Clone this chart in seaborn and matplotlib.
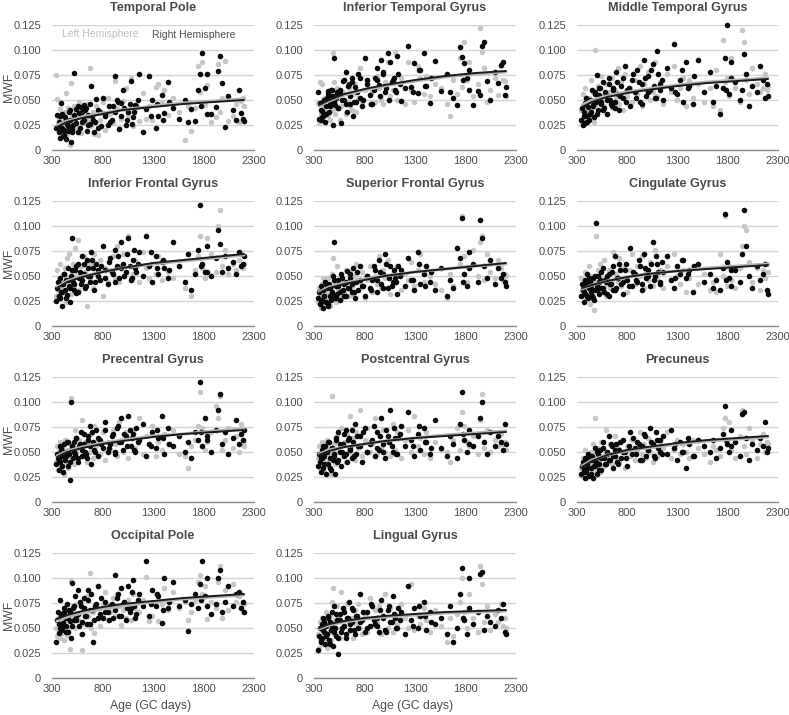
import matplotlib
matplotlib.use("Agg")
import matplotlib.pyplot as plt
import seaborn as sns

sns.set_theme(style="white")
plt.rcParams['font.family'] = ['Liberation Sans', 'DejaVu Sans']

W, H = 789, 715
TEXT = '#4d4d4d'
GREY = '#c6c6c6'
BLACK = '#0a0a0a'

titles = ["Temporal Pole", "Inferior Temporal Gyrus", "Middle Temporal Gyrus",
          "Inferior Frontal Gyrus", "Superior Frontal Gyrus", "Cingulate Gyrus",
          "Precentral Gyrus", "Postcentral Gyrus", "Precuneus",
          "Occipital Pole", "Lingual Gyrus"]
x_ticks = [300, 800, 1300, 1800, 2300]
y_ticks = [0, 25, 50, 75, 100, 125]
y_tick_labels = ["0", "0.025", "0.050", "0.075", "0.100", "0.125"]

# Age in GC days, shared by all panels
ages = [340,350,360,368,375,382,390,398,405,415,
        425,435,445,455,465,475,485,495,505,515,
        525,540,555,570,585,600,615,630,645,660,
        675,690,705,720,740,760,780,800,825,850,
        875,900,925,945,965,985,1005,1030,1055,1080,
        1100,1125,1160,1200,1235,1265,1295,1325,1350,1385,
        1410,1450,1500,1560,1620,1650,1680,1720,1750,1770,
        1790,1815,1835,1870,1920,1945,1960,1985,2010,2045,
        2090,2120,2150,2175,2190,2200]
# Further right-hemisphere scans
extra_ages = [370,385,400,420,440,460,480,500,520,540,
              560,580,600,620,640,660,680,700,730,760,
              790,820,860,890,920,950,980,1010,1040,1070,
              1090,1110,1130,1150,1280,1340,1400,1460,1780,1830]
trend_age = [350, 450, 600, 800, 1000, 1300, 1600, 1900, 2200]

# MWF x 1000, right hemisphere
right = [
 [22,35,24,18,12,34,47,22,14,20, 33,11,26,19,38,30,8,21,25,77, 32,41,18,37,43,28,45,40,19,35,
  26,64,30,18,51,22,38,52,34,25, 28,44,74,50,21,47,60,25,38,69, 33,45,76,18,41,74,50,22,34,55,
  37,68,42,31,50,28,41,29,60,76, 97,62,76,36,43,79,94,67,23,54, 40,30,60,37,31,29],
 [58,31,47,30,39,33,48,36,28,44, 52,59,38,46,60,54,25,92,45,55, 58,42,57,27,69,50,78,38,66,46,
  72,34,63,48,76,52,44,92,70,55, 46,72,82,65,90,78,58,97,88,70, 60,94,49,62,104,63,87,57,80,97,
  64,47,89,59,76,58,52,45,103,93, 87,72,80,45,59,55,104,108,69,50, 78,67,85,88,55,63],
 [30,42,25,38,47,27,52,34,43,30, 36,50,60,45,33,58,48,75,40,55, 62,46,68,42,55,36,72,50,44,62,
  48,78,56,40,64,52,84,60,44,70, 58,80,48,66,90,54,74,60,86,52, 99,66,50,82,62,106,56,70,48,88,
  64,46,90,58,78,48,64,36,62,92, 125,56,88,68,50,60,96,76,44,64, 58,84,70,52,66,54],
 [25,38,44,30,28,48,34,20,42,52, 36,46,31,58,40,24,50,88,44,36, 56,33,62,48,42,70,52,38,66,50,
  44,74,58,36,62,50,46,80,56,42, 68,52,76,60,48,84,62,54,88,46, 66,58,74,50,90,60,44,70,52,64,
  58,48,84,60,44,72,36,52,76,121, 62,54,80,50,68,96,82,54,70,58, 64,52,74,60,62,70],
 [28,34,22,40,26,36,18,30,44,24, 38,20,42,30,26,34,50,84,28,40, 32,46,26,52,36,42,30,55,38,48,
  34,58,28,44,36,60,40,30,50,38, 46,56,34,66,42,52,72,38,60,44, 48,32,56,40,68,46,36,74,42,52,
  60,44,36,58,30,46,38,78,68,108, 52,40,74,62,44,106,88,60,48,66, 42,58,48,52,44,40],
 [30,42,36,24,46,32,40,52,28,38, 44,34,30,48,26,36,103,40,50,32, 46,38,58,34,44,50,30,42,54,36,
  70,38,48,62,42,32,56,46,78,40, 52,44,60,36,72,48,56,40,84,50, 62,42,54,70,46,38,60,52,66,48,
  56,34,62,44,52,38,46,36,58,112, 64,48,40,56,44,72,116,80,50,38, 60,46,52,62,36,32],
 [38,48,44,32,56,40,52,46,30,58, 42,50,60,36,48,22,100,54,44,60, 48,64,40,56,70,46,58,50,44,66,
  76,38,60,52,72,46,62,54,80,50, 58,68,48,74,60,84,52,66,86,56, 68,50,62,78,46,58,70,54,64,86,
  48,74,56,66,50,60,44,70,62,120, 56,84,66,50,72,92,108,58,70,48, 64,82,58,68,62,72],
 [36,48,40,30,52,44,34,46,56,28, 50,38,60,44,32,54,42,48,28,62, 40,70,50,36,58,46,72,40,64,52,
  44,60,78,48,56,66,40,74,50,58, 62,46,70,52,84,58,44,66,92,50, 64,48,76,56,90,62,46,68,52,74,
  60,48,82,54,46,66,58,44,78,110, 62,50,72,56,66,84,100,60,48,70, 56,66,60,52,78,58],
 [28,36,40,32,24,44,30,38,48,26, 42,34,46,24,36,54,40,28,48,38, 52,32,60,44,38,50,66,42,56,34,
  46,58,38,52,44,62,50,36,70,48, 54,60,42,56,68,46,52,74,58,44, 62,50,66,48,72,54,42,60,50,34,
  58,46,62,56,50,62,44,54,68,96, 58,50,72,60,46,88,90,64,42,58, 52,64,56,80,50,54],
 [36,58,66,45,50,78,62,48,55,66, 60,52,74,46,68,57,40,95,70,58, 82,62,88,52,72,44,80,62,54,88,
  68,84,36,58,74,92,64,60,76,66, 72,60,103,80,62,90,74,58,92,70, 98,60,84,72,117,62,88,72,82,55,
  100,70,96,72,78,47,74,84,70,94, 117,82,100,64,74,100,108,66,76,92, 72,84,86,70,76,66],
 [28,42,50,36,54,40,60,46,34,52, 44,62,38,56,48,66,32,72,50,42, 58,24,64,46,70,52,40,60,76,48,
  56,68,44,62,50,84,58,46,66,52, 72,54,60,46,78,62,48,68,56,82, 60,50,66,44,92,58,70,50,62,76,
  48,66,54,60,44,72,36,50,84,110, 58,44,100,54,66,104,106,48,62,56, 52,68,60,74,46,44],
]
right_extra = [
 [28,20,36,15,30,24,40,18,35,27, 44,22,38,30,42,25,46,34,28,40, 24,36,44,30,38,48,34,42,30,46, 26,38,44,50,34,46,30,48,44,36],
 [40,34,50,36,56,44,60,48,52,42, 60,50,70,46,64,54,68,48,58,72, 50,66,46,60,70,54,76,62,50,68, 72,58,76,66,58,80,64,72,70,60],
 [34,46,28,50,38,44,56,36,62,48, 40,58,50,66,46,60,42,68,54,72, 48,62,76,52,68,46,72,58,80,64, 52,76,60,70,58,80,62,74,60,72],
 [30,42,34,52,28,46,38,56,42,60, 34,54,46,62,40,58,50,66,44,56, 60,48,64,54,44,70,58,50,72,60, 48,76,54,62,74,58,66,56,60,54],
 [24,36,30,42,22,38,32,46,28,40, 34,48,30,44,38,52,42,34,54,46, 40,50,36,60,46,54,38,62,48,40, 56,44,60,50,46,62,40,54,44,58],
 [34,44,30,48,38,28,50,36,44,54, 38,46,32,52,42,60,36,48,56,44, 62,40,54,46,66,42,58,50,62,46, 70,54,44,64,48,66,52,60,46,56],
 [42,54,36,50,46,60,40,56,50,64, 44,58,52,68,48,62,56,70,50,64, 58,72,54,66,50,76,60,68,56,72, 64,52,74,60,56,72,64,58,70,62],
 [44,56,38,50,60,34,54,46,64,42, 58,50,68,48,62,54,72,46,66,56, 70,50,60,76,54,66,50,72,60,56, 74,48,64,68,56,76,60,54,68,58],
 [30,40,34,46,28,42,36,50,32,44, 54,38,48,42,58,46,52,40,60,50, 44,56,64,48,58,42,66,52,60,46, 70,54,62,48,58,50,64,46,62,56],
 [54,64,50,70,46,60,66,52,72,58, 64,76,56,70,62,78,54,68,72,60, 80,66,58,74,68,84,62,76,70,66, 86,72,64,78,74,84,68,76,78,72],
 [38,48,56,42,60,34,52,46,64,40, 58,50,66,44,60,54,70,48,62,56, 66,50,74,58,52,68,60,46,72,56, 64,50,70,58,52,72,62,56,60,70],
]
# MWF x 1000, left hemisphere
left = [
 [75,51,23,32,41,18,36,27,21,30, 38,57,16,42,25,5,67,34,20,44, 29,38,22,48,17,33,40,27,46,31,
  82,24,38,16,44,15,30,48,20,52, 36,27,69,42,22,31,49,62,35,72, 24,40,29,57,31,44,30,63,66,48,
  60,35,52,38,10,44,19,42,84,58, 88,45,65,28,33,86,38,52,89,29, 34,46,28,49,52,44],
 [47,28,68,36,66,30,42,52,27,38, 44,34,58,30,50,40,97,68,36,42, 62,54,30,44,58,70,36,48,62,44,
  40,56,66,38,52,82,48,60,70,46, 58,48,74,62,50,46,68,88,54,60, 98,50,72,46,88,60,48,84,72,56,
  74,54,66,62,46,34,70,56,92,63, 108,70,88,54,66,122,98,82,48,60, 72,55,84,70,69,54],
 [40,28,56,34,62,44,30,48,38,52, 34,70,42,58,28,100,46,36,64,50, 40,74,54,44,66,36,58,50,72,42,
  60,52,82,46,68,40,76,54,62,48, 70,56,84,44,66,60,78,50,58,88, 54,68,46,76,58,84,50,62,72,44,
  70,52,66,48,62,44,80,40,110,68, 72,54,92,62,48,120,108,70,56,82, 66,58,62,76,60,64],
 [30,56,36,48,28,62,40,34,52,44, 58,24,68,38,72,46,32,54,62,40, 78,50,86,36,60,44,70,54,20,64,
  48,62,38,72,52,46,66,30,58,44, 56,70,48,80,44,60,72,54,90,48, 52,66,44,74,58,48,62,52,70,46,
  64,54,48,60,38,72,30,56,70,90, 58,48,88,72,54,100,116,60,76,52, 62,56,66,72,58,62],
 [24,38,30,18,42,28,48,22,34,40, 26,48,32,20,38,52,68,30,44,24, 60,36,46,28,42,34,56,44,30,54,
  40,32,50,62,36,44,54,28,46,60, 34,50,42,70,38,56,48,66,32,52, 44,60,36,52,46,64,40,56,72,44,
  60,50,42,36,28,52,40,78,62,110, 70,44,58,76,50,84,90,46,72,54, 48,66,58,46,52,50],
 [48,36,30,44,54,40,28,34,46,60, 22,38,50,30,16,44,90,36,56,42, 62,34,48,66,30,42,56,38,44,74,
  36,52,44,68,40,58,48,34,56,72, 42,60,50,70,38,54,46,64,40,76, 48,56,38,60,46,72,50,42,56,34,
  48,60,42,52,36,44,34,72,50,110, 40,60,46,38,58,80,100,96,64,44, 58,36,56,48,62,54],
 [40,56,32,50,44,60,36,54,48,28, 62,40,52,34,46,58,104,44,56,38, 72,50,44,62,54,82,48,60,40,58,
  50,68,44,76,56,62,48,70,42,60, 52,72,58,46,80,62,50,70,44,64, 72,54,84,48,66,58,76,46,60,52,
  68,58,72,48,46,34,56,62,76,110, 74,52,60,70,96,84,106,52,62,74, 54,66,50,78,60,56],
 [44,56,34,48,38,60,46,30,52,42, 62,36,54,48,28,106,44,58,38,50, 66,42,56,74,46,60,40,68,52,86,
  48,64,42,70,54,92,46,62,74,50, 58,84,48,66,54,72,50,60,46,78, 52,70,44,62,72,50,86,56,64,48,
  70,44,60,52,50,40,62,74,52,90, 76,60,56,66,48,82,108,54,72,50, 62,56,68,58,60,52],
 [34,26,44,30,40,52,24,36,28,46, 32,50,38,58,30,84,44,36,54,42, 30,60,46,36,72,50,42,58,38,48,
  66,44,54,40,60,50,34,56,46,62, 42,52,70,48,58,44,64,50,40,56, 46,60,54,70,44,52,62,48,58,50,
  44,62,54,48,40,56,52,46,74,84, 60,80,52,44,66,92,56,48,74,62, 44,58,68,50,60,58],
 [50,42,60,48,40,56,44,52,62,38, 46,58,43,68,50,29,97,56,72,62, 50,74,58,64,44,28,70,54,82,62,
  105,50,66,45,74,60,52,72,86,58, 66,80,62,84,72,53,68,60,78,58, 84,70,66,78,101,57,62,84,57,74,
  90,68,86,70,76,58,66,78,96,103, 84,92,59,76,70,96,112,60,88,68, 94,76,82,72,66,74],
 [44,30,56,36,48,60,34,52,40,66, 30,54,46,62,38,76,90,44,58,50, 72,60,40,86,52,66,44,74,56,48,
  60,40,68,54,74,50,44,62,46,80, 52,68,56,72,44,62,84,50,70,46, 64,54,74,60,50,94,48,62,54,70,
  58,46,68,52,36,60,42,64,76,100, 66,50,84,60,46,112,94,56,72,48, 64,56,74,52,60,50],
]
# Trend curves, MWF x 1000
trend_right = [
 [23,28,32,36,40,43,46,48,50], [45,50,56,61,65,70,74,77,79], [43,48,53,57,60,64,67,69,71],
 [38,44,49,54,58,63,66,69,72], [33,38,42,46,50,54,57,60,63], [38,41,45,49,52,55,57,59,61],
 [45,50,54,58,61,65,68,70,72], [47,51,55,58,61,64,66,68,70], [35,41,47,52,55,59,62,64,66],
 [59,63,67,71,74,77,80,82,84], [50,54,57,60,62,64,66,67,68],
]
trend_left = [
 [25,29,33,37,40,44,47,49,51], [44,49,55,60,64,69,73,76,78], [45,50,54,58,61,65,68,70,72],
 [39,45,50,54,58,62,65,68,71], [34,39,43,47,50,54,57,60,62], [37,41,45,49,52,55,58,60,62],
 [46,51,55,59,62,66,68,71,73], [48,52,55,58,61,64,67,69,71], [36,42,47,51,54,58,61,63,65],
 [57,61,65,69,72,76,79,81,83], [49,53,56,59,61,63,65,66,67],
]

col_left = [52, 314, 577]
col_w = [202, 202, 201]
row_top = [25, 201, 377, 553]
row_h = 125

fig = plt.figure(figsize=(W / 100, H / 100), dpi=100)
for i, title in enumerate(titles):
    r, c = divmod(i, 3)
    ax = fig.add_axes([col_left[c] / W, 1 - (row_top[r] + row_h) / H, col_w[c] / W, row_h / H])
    sns.scatterplot(x=ages, y=left[i], color=GREY, s=16, linewidth=0, ax=ax,
                    zorder=3, clip_on=False)
    sns.scatterplot(x=ages + extra_ages, y=right[i] + right_extra[i], color=BLACK, s=16,
                    linewidth=0, ax=ax, zorder=3, clip_on=False)
    sns.lineplot(x=trend_age, y=trend_left[i], color='#b5b5b5', lw=2.2, ax=ax, zorder=4)
    sns.lineplot(x=trend_age, y=trend_right[i], color='#1a1a1a', lw=1.4, ax=ax, zorder=5)
    ax.set_xlim(300, 2300)
    ax.set_ylim(0, 125)
    ax.set_xticks(x_ticks)
    ax.set_yticks(y_ticks, y_tick_labels)
    ax.grid(axis='y', color='#d4d4d4', lw=1.0, zorder=0)
    ax.grid(axis='x', visible=False)
    ax.set_axisbelow(True)
    for s in ('top', 'left', 'right'):
        ax.spines[s].set_visible(False)
    ax.spines['bottom'].set_color('#8c8c8c')
    ax.spines['bottom'].set_linewidth(1.0)
    ax.tick_params(axis='y', length=0, labelsize=8, labelcolor=TEXT, pad=8)
    ax.tick_params(axis='x', length=0, labelsize=8, labelcolor=TEXT, pad=4)
    ax.set_title(title, fontsize=9.1, color='#4a4a4a', fontweight='bold', pad=10)
    ax.set_xlabel("Age (GC days)" if r == 3 else "", fontsize=8.8, color=TEXT, va='center')
    ax.xaxis.set_label_coords(0.49, -0.224)
    ax.set_ylabel("MWF" if c == 0 else "", fontsize=8.8, color=TEXT, va='center')
    ax.yaxis.set_label_coords(-0.215, 0.5)
    if i == 0:
        ax.text(775, 116, "Left Hemisphere", color='#bdbdbd', fontsize=7.5,
                ha='center', va='center')
        ax.text(1706, 115, "Right Hemisphere", color='#4d4d4d', fontsize=7.5,
                ha='center', va='center')
fig.savefig("out.png", dpi=100, facecolor='white')
